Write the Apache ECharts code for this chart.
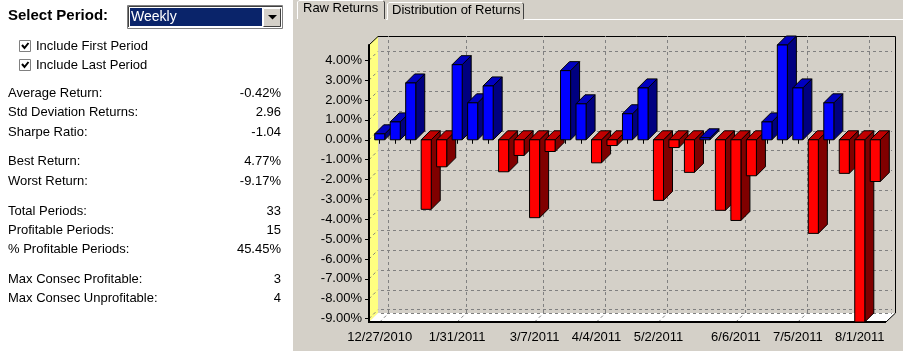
<!DOCTYPE html>
<html>
<head>
<meta charset="utf-8">
<script src="https://cdn.jsdelivr.net/npm/echarts@6/dist/echarts.min.js"></script>
<style>
  html, body { margin: 0; padding: 0; background: #d4d0c8; }
  #chart { width: 903px; height: 351px; }
</style>
</head>
<body>
<div id="chart"></div>
<script>
// weekly periods shown on the x axis
const periods = [
  '12/27/2010', '1/3/2011', '1/10/2011', '1/17/2011', '1/24/2011', '1/31/2011',
  '2/7/2011', '2/14/2011', '2/21/2011', '2/28/2011', '3/7/2011', '3/14/2011',
  '3/21/2011', '3/28/2011', '4/4/2011', '4/11/2011', '4/18/2011', '4/25/2011',
  '5/2/2011', '5/9/2011', '5/16/2011', '5/23/2011', '5/31/2011', '6/6/2011',
  '6/13/2011', '6/20/2011', '6/27/2011', '7/5/2011', '7/11/2011', '7/18/2011',
  '7/25/2011', '8/1/2011', '8/8/2011'
];
// weekly returns in %
const returns = [
  0.30, 0.90, 2.86, -3.50, -1.36, 3.78, 1.86, 2.71, -1.61, -0.79, -3.92,
  -0.59, 3.48, 1.81, -1.16, -0.29, 1.31, 2.61, -3.05, -0.39, -1.64, 0.10,
  -3.55, -4.06, -1.81, 0.90, 4.77, 2.61, -4.71, 1.86, -1.69, -9.17, -2.10
];
// periods that get a date label
const labeledPeriods = [0, 5, 10, 14, 18, 23, 27, 31];
const yMin = -9.17, yMax = 4.77;

const statLabels = [
  'Average Return:', 'Std Deviation Returns:', 'Sharpe Ratio:',
  'Best Return:', 'Worst Return:',
  'Total Periods:', 'Profitable Periods:', '% Profitable Periods:',
  'Max Consec Profitable:', 'Max Consec Unprofitable:'
];
const statValues = ['-0.42%', '2.96', '-1.04', '4.77%', '-9.17%', '33', '15', '45.45%', '3', '4'];
const statRowY = [93, 112, 132, 161, 181, 211, 230, 249, 279, 298];

const FONT = '"Liberation Sans", Arial, sans-serif';
const GRAY = '#d4d0c8';
const PLOT = { left: 372, top: 45, width: 511, height: 277 };
const DEPTH = 9;

const chart = echarts.init(document.getElementById('chart'));

function renderBar(params, api) {
  const i = api.value(0);
  const v = api.value(1);
  const base = api.coord([i, 0]);
  const end = api.coord([i, v]);
  const w = api.size([1, 0])[0] * 0.65;
  const x0 = base[0] - w / 2, x1 = x0 + w;
  const yTop = Math.min(base[1], end[1]);
  const yBot = Math.max(base[1], end[1]);
  const pos = v >= 0;
  const front = pos ? '#0000ff' : '#ff0000';
  const top = pos ? '#0000c0' : '#c00000';
  const side = pos ? '#000080' : '#800000';
  const stroke = { stroke: '#000', lineWidth: 1 };
  return {
    type: 'group',
    children: [
      { type: 'polygon', shape: { points: [[x1, yTop], [x1 + DEPTH, yTop - DEPTH], [x1 + DEPTH, yBot - DEPTH], [x1, yBot]] },
        style: Object.assign({ fill: side }, stroke) },
      { type: 'polygon', shape: { points: [[x0, yTop], [x0 + DEPTH, yTop - DEPTH], [x1 + DEPTH, yTop - DEPTH], [x1, yTop]] },
        style: Object.assign({ fill: top }, stroke) },
      { type: 'rect', shape: { x: x0, y: yTop, width: w, height: Math.max(yBot - yTop, 1) },
        style: Object.assign({ fill: front }, stroke) }
    ]
  };
}

const valueAxisBase = { type: 'value', min: yMin, max: yMax, splitNumber: 14, minInterval: 1, maxInterval: 1 };

chart.setOption({
  backgroundColor: GRAY,
  animation: false,
  grid: [
    { left: PLOT.left, top: PLOT.top, width: PLOT.width, height: PLOT.height },
    { left: PLOT.left + DEPTH, top: PLOT.top - DEPTH, width: PLOT.width, height: PLOT.height }
  ],
  xAxis: [
    {
      type: 'category', gridIndex: 0, data: periods,
      axisLine: { show: false },
      axisTick: { show: true, alignWithLabel: true, interval: 0, length: 4, lineStyle: { color: '#000' } },
      axisLabel: { interval: (i) => labeledPeriods.includes(i), margin: 9, color: '#000', fontSize: 13, fontFamily: FONT },
      splitLine: { show: false }
    },
    { type: 'category', gridIndex: 1, data: periods, show: false }
  ],
  yAxis: [
    Object.assign({}, valueAxisBase, {
      gridIndex: 0, offset: 3,
      axisLine: { show: true, lineStyle: { color: '#000', width: 2 } },
      axisTick: { show: true, length: 4, lineStyle: { color: '#000' } },
      axisLabel: {
        showMinLabel: false, showMaxLabel: false, margin: 7,
        formatter: (v) => v.toFixed(2) + '%',
        color: '#000', fontSize: 13, fontFamily: FONT
      },
      splitLine: { show: false }
    }),
    Object.assign({}, valueAxisBase, {
      gridIndex: 1,
      axisLine: { show: false }, axisTick: { show: false }, axisLabel: { show: false },
      splitLine: { show: true, lineStyle: { color: '#808080', width: 1, type: [3, 3] } }
    })
  ],
  series: [
    {
      // back wall vertical grid lines
      type: 'line', xAxisIndex: 1, yAxisIndex: 1, data: [], silent: true, z: 1,
      markLine: {
        silent: true, symbol: 'none', label: { show: false },
        lineStyle: { color: '#808080', width: 1, type: [3, 3] },
        data: labeledPeriods.map((i) => ({ xAxis: i }))
      }
    },
    {
      type: 'custom', xAxisIndex: 0, yAxisIndex: 0, clip: false, z: 5,
      data: returns.map((v, i) => [i, v]),
      encode: { x: 0, y: 1 },
      renderItem: renderBar
    }
  ]
});

// walls, floor and the left-hand panel
const L = PLOT.left - 3, R = PLOT.left + PLOT.width + 3;
const T = PLOT.top, B = PLOT.top + PLOT.height;
const dash = { stroke: '#808080', lineWidth: 1, lineDash: [3, 3] };
const black = { stroke: '#000', lineWidth: 1 };
const els = [];

els.push({ type: 'rect', z: -10, shape: { x: 0, y: 0, width: 293, height: 351 }, style: { fill: '#fff' } });
// wall + floor
els.push({ type: 'polygon', z: -5, shape: { points: [[L, T], [L + DEPTH, T - DEPTH], [L + DEPTH, B - DEPTH], [L, B]] }, style: { fill: '#ffff80' } });
els.push({ type: 'polygon', z: -5, shape: { points: [[L, B], [L + DEPTH, B - DEPTH], [R + DEPTH, B - DEPTH], [R, B]] }, style: { fill: '#fff' } });
for (let v = Math.ceil(yMin); v <= Math.floor(yMax); v++) {
  const y = chart.convertToPixel({ yAxisIndex: 0 }, v);
  els.push({ type: 'line', z: -4, shape: { x1: L, y1: y, x2: L + DEPTH, y2: y - DEPTH }, style: dash });
}
labeledPeriods.forEach((i) => {
  const x = chart.convertToPixel({ xAxisIndex: 0 }, i);
  els.push({ type: 'line', z: -4, shape: { x1: x, y1: B, x2: x + DEPTH, y2: B - DEPTH }, style: dash });
});
els.push({ type: 'polyline', z: 3, shape: { points: [[L, T], [L + DEPTH, T - DEPTH + 0.5], [R + DEPTH + 0.5, T - DEPTH + 0.5], [R + DEPTH + 0.5, B - DEPTH], [R, B]] }, style: Object.assign({ fill: null }, black) });
els.push({ type: 'line', z: 3, shape: { x1: L - 1, y1: B, x2: R, y2: B }, style: { stroke: '#000', lineWidth: 2 } });

// tabs
els.push({ type: 'polyline', z: 3, shape: { points: [[297.5, 19], [297.5, 2], [299, 0.5], [383, 0.5]] }, style: { stroke: '#fff', lineWidth: 1 } });
els.push({ type: 'polyline', z: 3, shape: { points: [[383.5, 1], [384.5, 2], [384.5, 19]] }, style: { stroke: '#404040', lineWidth: 1 } });
els.push({ type: 'polyline', z: 3, shape: { points: [[386, 19.5], [387.5, 19.5], [387.5, 4], [389, 2.5], [522, 2.5]] }, style: { stroke: '#fff', lineWidth: 1 } });
els.push({ type: 'polyline', z: 3, shape: { points: [[522.5, 3], [523.5, 4], [523.5, 19]] }, style: { stroke: '#404040', lineWidth: 1 } });
els.push({ type: 'line', z: 3, shape: { x1: 524, y1: 19.5, x2: 903, y2: 19.5 }, style: { stroke: '#fff', lineWidth: 1 } });
els.push({ type: 'text', z: 3, style: { text: 'Raw Returns', x: 303, y: 8, font: '13px ' + FONT, fill: '#000', verticalAlign: 'middle' } });
els.push({ type: 'text', z: 3, style: { text: 'Distribution of Returns', x: 392, y: 10, font: '13px ' + FONT, fill: '#000', verticalAlign: 'middle' } });

// period selector
els.push({ type: 'text', style: { text: 'Select Period:', x: 8, y: 16, font: 'bold 15px ' + FONT, fill: '#000', verticalAlign: 'middle' } });
els.push({ type: 'rect', shape: { x: 127.5, y: 5.5, width: 155, height: 23 }, style: { fill: '#fff', stroke: '#808080', lineWidth: 1 } });
els.push({ type: 'polyline', shape: { points: [[128.5, 27], [128.5, 6.5], [282, 6.5]] }, style: { stroke: '#404040', lineWidth: 1, fill: null } });
els.push({ type: 'rect', shape: { x: 130, y: 8, width: 132, height: 18 }, style: { fill: '#0a246a' } });
els.push({ type: 'text', style: { text: 'Weekly', x: 131, y: 17, font: '14px ' + FONT, fill: '#fff', verticalAlign: 'middle' } });
els.push({ type: 'rect', shape: { x: 263, y: 8, width: 18, height: 19 }, style: { fill: GRAY } });
els.push({ type: 'polyline', shape: { points: [[263.5, 26.5], [263.5, 8.5], [281, 8.5]] }, style: { stroke: '#fff', lineWidth: 1, fill: null } });
els.push({ type: 'polyline', shape: { points: [[263.5, 26.5], [280.5, 26.5], [280.5, 8.5]] }, style: { stroke: '#404040', lineWidth: 1, fill: null } });
els.push({ type: 'polygon', shape: { points: [[268, 15], [277, 15], [272.5, 19.5]] }, style: { fill: '#000' } });

// checkboxes
[['Include First Period', 46], ['Include Last Period', 65]].forEach(([txt, cy]) => {
  els.push({ type: 'rect', shape: { x: 19.5, y: cy - 5.5, width: 11, height: 11 }, style: { fill: '#fff', stroke: '#808080', lineWidth: 1 } });
  els.push({ type: 'polyline', shape: { points: [[22, cy - 1], [24.5, cy + 2], [28.5, cy - 3]] }, style: { stroke: '#000', lineWidth: 2, fill: null } });
  els.push({ type: 'text', style: { text: txt, x: 36, y: cy, font: '13px ' + FONT, fill: '#000', verticalAlign: 'middle' } });
});

// statistics
statLabels.forEach((txt, k) => {
  els.push({ type: 'text', style: { text: txt, x: 8, y: statRowY[k], font: '13px ' + FONT, fill: '#000', verticalAlign: 'middle' } });
  els.push({ type: 'text', style: { text: statValues[k], x: 281, y: statRowY[k], font: '13px ' + FONT, fill: '#000', align: 'right', verticalAlign: 'middle' } });
});

chart.setOption({ graphic: { elements: els } });
</script>
</body>
</html>
